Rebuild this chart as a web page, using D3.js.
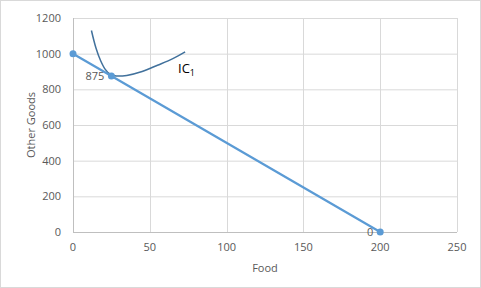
<!DOCTYPE html>
<html>
<head>
<meta charset="utf-8">
<script src="https://cdn.jsdelivr.net/npm/d3@7"></script>
<style>
  body { margin: 0; background: #fff; }
  text { font-family: "Open Sans", "Liberation Sans", sans-serif; fill: #595959; }
</style>
</head>
<body>
<div id="app"></div>
<script>
// budget line points (food, other goods)
const budgetFood = [0, 25, 200];
const budgetOther = [1000, 875, 0];
const budgetLabels = ['', '875', '0'];

// indifference curve IC1
const icFood = [12, 15, 18, 21, 24, 28, 35, 45, 55, 65, 73];
const icOther = [1130, 1030, 960, 912, 886, 875, 878, 900, 935, 972, 1010];

const xTicks = [0, 50, 100, 150, 200, 250];
const yTicks = [0, 200, 400, 600, 800, 1000, 1200];

const width = 481;
const height = 288;

const svg = d3.select('#app').append('svg')
  .attr('width', width)
  .attr('height', height);

// chart frame
svg.append('rect')
  .attr('x', 0.5).attr('y', 0.5)
  .attr('width', width - 1).attr('height', height - 1)
  .attr('fill', '#fff')
  .attr('stroke', '#d9d9d9');

const x = d3.scaleLinear().domain([0, 250]).range([73, 457]);
const y = d3.scaleLinear().domain([0, 1200]).range([232, 18]);

// gridlines
svg.append('g')
  .selectAll('line')
  .data(yTicks.slice(1))
  .enter().append('line')
  .attr('x1', x(0)).attr('x2', x(250))
  .attr('y1', d => y(d) + 0.5).attr('y2', d => y(d) + 0.5)
  .attr('stroke', '#d9d9d9');

svg.append('g')
  .selectAll('line')
  .data(xTicks.slice(1))
  .enter().append('line')
  .attr('y1', y(0)).attr('y2', y(1200))
  .attr('x1', d => Math.round(x(d)) + 0.5).attr('x2', d => Math.round(x(d)) + 0.5)
  .attr('stroke', '#d9d9d9');

// axes lines
svg.append('line')
  .attr('x1', x(0)).attr('x2', x(250))
  .attr('y1', y(0) + 0.5).attr('y2', y(0) + 0.5)
  .attr('stroke', '#bfbfbf');
svg.append('line')
  .attr('x1', x(0) + 0.5).attr('x2', x(0) + 0.5)
  .attr('y1', y(0)).attr('y2', y(1200))
  .attr('stroke', '#bfbfbf');

// tick labels
svg.append('g')
  .selectAll('text')
  .data(yTicks)
  .enter().append('text')
  .attr('x', 61)
  .attr('y', d => y(d))
  .attr('dy', '0.35em')
  .attr('text-anchor', 'end')
  .attr('font-size', 11)
  .text(d => d);

svg.append('g')
  .selectAll('text')
  .data(xTicks)
  .enter().append('text')
  .attr('x', d => x(d))
  .attr('y', 251)
  .attr('text-anchor', 'middle')
  .attr('font-size', 11)
  .text(d => d);

// axis titles
svg.append('text')
  .attr('x', 265).attr('y', 272)
  .attr('text-anchor', 'middle')
  .attr('font-size', 11)
  .text('Food');

svg.append('text')
  .attr('transform', `translate(35,${(y(0) + y(1200)) / 2}) rotate(-90)`)
  .attr('text-anchor', 'middle')
  .attr('font-size', 11)
  .text('Other Goods');

// indifference curve
const icData = icFood.map((f, i) => ({ f, o: icOther[i] }));
svg.append('path')
  .datum(icData)
  .attr('fill', 'none')
  .attr('stroke', '#41719c')
  .attr('stroke-width', 1.5)
  .attr('d', d3.line().x(d => x(d.f)).y(d => y(d.o)).curve(d3.curveCatmullRom));

// budget line
const budget = budgetFood.map((f, i) => ({ f, o: budgetOther[i], label: budgetLabels[i] }));
svg.append('path')
  .datum(budget)
  .attr('fill', 'none')
  .attr('stroke', '#5b9bd5')
  .attr('stroke-width', 2.25)
  .attr('d', d3.line().x(d => x(d.f)).y(d => y(d.o)));

svg.append('g')
  .selectAll('circle')
  .data(budget)
  .enter().append('circle')
  .attr('cx', d => x(d.f))
  .attr('cy', d => y(d.o))
  .attr('r', 3.5)
  .attr('fill', '#5b9bd5');

svg.append('g')
  .selectAll('text')
  .data(budget)
  .enter().append('text')
  .attr('x', d => x(d.f) - 7)
  .attr('y', d => y(d.o))
  .attr('dy', '0.35em')
  .attr('text-anchor', 'end')
  .attr('font-size', 11)
  .attr('fill', '#404040')
  .text(d => d.label);

// IC label
const ic = svg.append('text')
  .attr('x', 178).attr('y', 73)
  .attr('font-size', 13)
  .style('fill', '#000');
ic.append('tspan').text('IC');
ic.append('tspan').attr('font-size', 9).attr('dy', 3).text('1');
</script>
</body>
</html>
